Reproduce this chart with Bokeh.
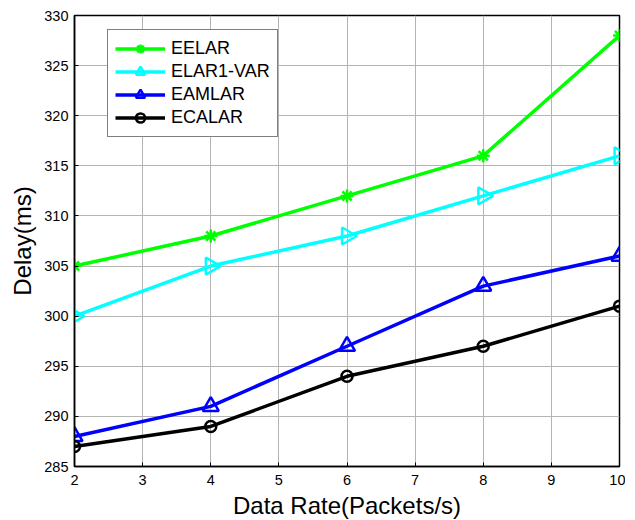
import math
from bokeh.plotting import figure
from bokeh.models import Range1d, FixedTicker, Legend, LegendItem
from bokeh.embed import file_html
from bokeh.resources import INLINE

rates = [2, 4, 6, 8, 10]
eelar = [305, 308, 312, 316, 328]
elar1_var = [300, 305, 308, 312, 316]
eamlar = [288, 291, 297, 303, 306]
ecalar = [287, 289, 294, 297, 301]
x_ticks = [2, 3, 4, 5, 6, 7, 8, 9, 10]
y_ticks = [285, 290, 295, 300, 305, 310, 315, 320, 325, 330]

FONT = "Liberation Sans"

p = figure(frame_width=545, frame_height=451, output_backend="svg", toolbar_location=None,
           x_range=Range1d(2, 10), y_range=Range1d(285, 330),
           min_border_left=74, min_border_top=15, min_border_right=6, min_border_bottom=53)
p.background_fill_color = "white"
p.border_fill_color = "white"
p.outline_line_color = "black"
p.outline_line_width = 1.5

for ax, ticks in ((p.xaxis[0], x_ticks), (p.yaxis[0], y_ticks)):
    ax.ticker = FixedTicker(ticks=ticks)
    ax.major_tick_in = 4
    ax.major_tick_out = 0
    ax.minor_tick_line_color = None
    ax.axis_line_color = "black"
    ax.axis_line_width = 1.5
    ax.major_label_text_font = FONT
    ax.major_label_text_font_size = "14.5px"
    ax.major_label_text_color = "black"
    ax.axis_label_text_font = FONT
    ax.axis_label_text_font_size = "24px"
    ax.axis_label_text_font_style = "normal"
    ax.axis_label_text_color = "black"
    ax.major_tick_line_color = "black"
p.xaxis[0].axis_label = "Data Rate(Packets/s)"
p.yaxis[0].axis_label = "Delay(ms)"
p.xaxis[0].major_label_standoff = 8
p.yaxis[0].major_label_standoff = 6
p.xaxis[0].axis_label_standoff = 4
p.yaxis[0].axis_label_standoff = 5

p.xgrid.ticker = FixedTicker(ticks=x_ticks)
p.ygrid.ticker = FixedTicker(ticks=y_ticks)
p.grid.grid_line_color = "#b4b4b4"
p.grid.grid_line_width = 1

series = [
    ("EELAR", eelar, "#00ff00", "asterisk", 0.0, 13),
    ("ELAR1-VAR", elar1_var, "#00ffff", "triangle", -math.pi / 2, 17),
    ("EAMLAR", eamlar, "#0000ff", "triangle", 0.0, 16),
    ("ECALAR", ecalar, "#000000", "circle", 0.0, 11),
]
items = []
for name, ys, col, mk, ang, sz in series:
    r1 = p.line(rates, ys, line_color=col, line_width=3.5)
    r2 = p.scatter(rates, ys, marker=mk, size=sz, angle=ang, line_color=col,
                   line_width=2.5, fill_color=None)
    items.append(LegendItem(label=name, renderers=[r1, r2]))

legend = Legend(items=items, location=(33, 329))
legend.label_text_font = FONT
legend.label_text_font_size = "18px"
legend.label_text_color = "black"
legend.label_standoff = 6
legend.glyph_width = 50
legend.glyph_height = 23
legend.label_height = 23
legend.spacing = 0
legend.padding = 7
legend.margin = 0
legend.border_line_color = "black"
legend.border_line_width = 1.5
legend.background_fill_alpha = 1
p.add_layout(legend, "center")

open("out.html", "w").write(file_html(p, INLINE))
